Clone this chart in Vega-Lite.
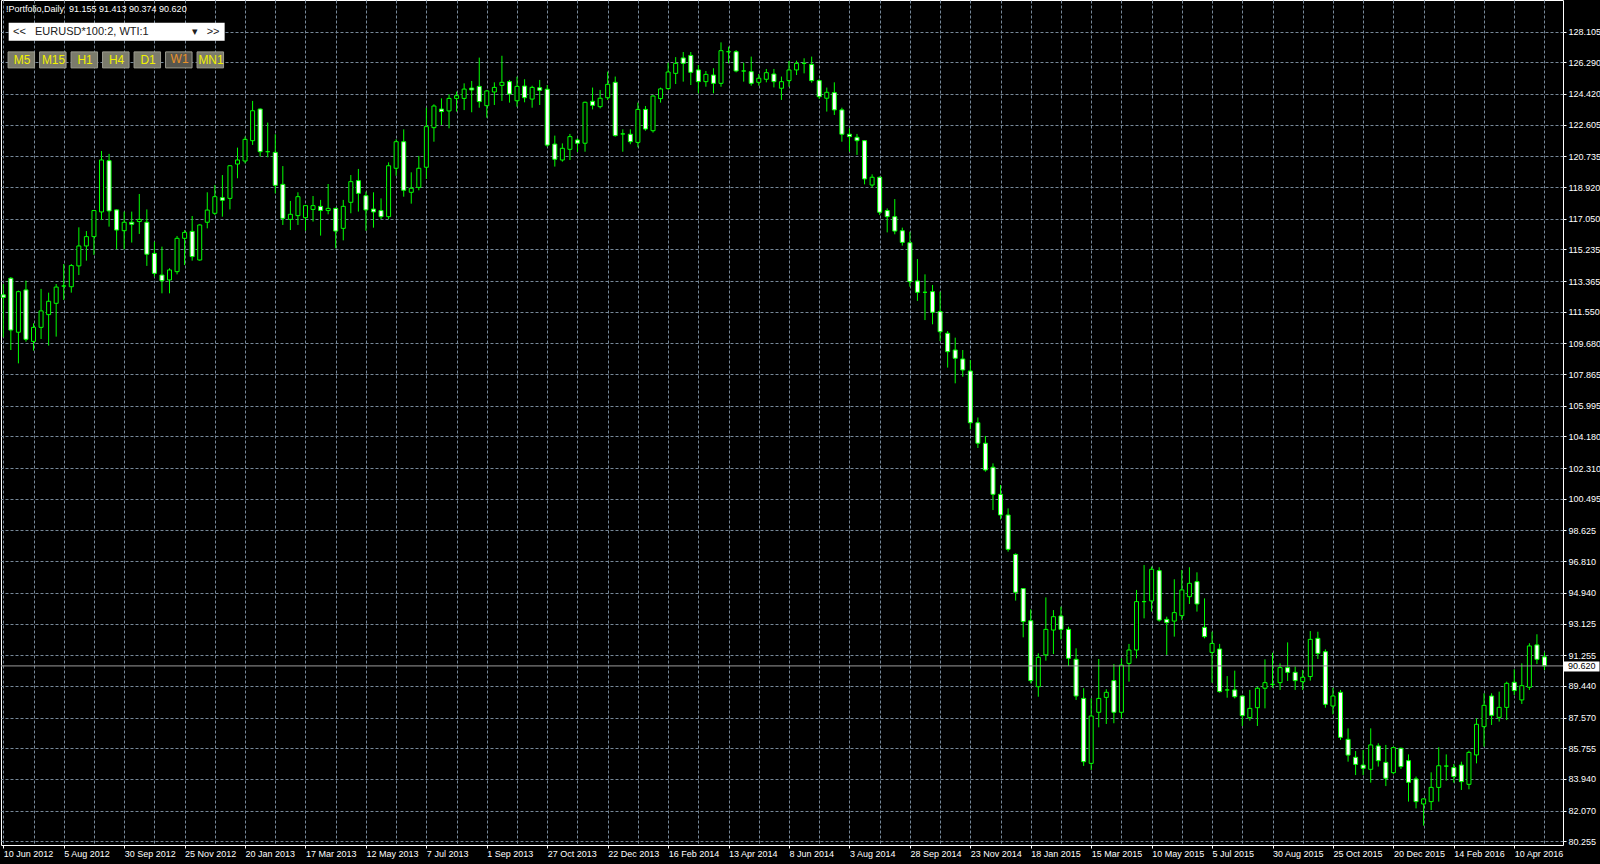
{
  "$schema": "https://vega.github.io/schema/vega-lite/v6.json",
  "width": 1562,
  "height": 845,
  "autosize": {"type": "none"},
  "padding": {"left": 1, "top": 0, "right": 37, "bottom": 19},
  "background": "#000000",
  "config": {
    "view": {"fill": "#000000", "stroke": "#ffffff", "strokeWidth": 1},
    "axis": {"labelFont": "Liberation Sans", "labelFontSize": 9, "labelColor": "#ffffff", "domain": false, "title": null}
  },
  "title": {
    "text": "!Portfolio,Daily \u00a091.155 91.413 90.374 90.620",
    "anchor": "start", "frame": "group", "orient": "top", "offset": -14, "dx": 5,
    "color": "#ffffff", "font": "Liberation Sans", "fontSize": 9, "fontWeight": "normal"
  },
  "datasets": {
    "w": [
      {"d":"2012-06-10","o":112.55,"h":113.19,"l":110.04,"c":112.40},
      {"d":"2012-06-17","o":113.53,"h":113.60,"l":109.29,"c":110.47},
      {"d":"2012-06-24","o":110.34,"h":112.80,"l":108.50,"c":112.74},
      {"d":"2012-07-01","o":112.84,"h":113.39,"l":109.78,"c":109.92},
      {"d":"2012-07-08","o":109.80,"h":110.87,"l":109.25,"c":110.63},
      {"d":"2012-07-15","o":110.63,"h":112.90,"l":109.94,"c":111.60},
      {"d":"2012-07-22","o":111.38,"h":112.68,"l":109.55,"c":112.17},
      {"d":"2012-07-29","o":112.05,"h":113.19,"l":110.08,"c":113.01},
      {"d":"2012-08-05","o":113.07,"h":114.37,"l":112.25,"c":113.07},
      {"d":"2012-08-12","o":113.03,"h":114.37,"l":112.68,"c":114.28},
      {"d":"2012-08-19","o":114.26,"h":116.54,"l":113.72,"c":115.44},
      {"d":"2012-08-26","o":115.44,"h":116.32,"l":114.57,"c":115.99},
      {"d":"2012-09-02","o":115.99,"h":117.57,"l":114.91,"c":117.53},
      {"d":"2012-09-09","o":117.45,"h":121.05,"l":116.97,"c":120.52},
      {"d":"2012-09-16","o":120.48,"h":120.88,"l":116.58,"c":117.51},
      {"d":"2012-09-23","o":117.57,"h":117.60,"l":115.24,"c":116.38},
      {"d":"2012-09-30","o":116.34,"h":117.47,"l":115.24,"c":116.84},
      {"d":"2012-10-07","o":116.84,"h":117.47,"l":115.64,"c":116.72},
      {"d":"2012-10-14","o":116.88,"h":118.51,"l":116.15,"c":117.01},
      {"d":"2012-10-21","o":116.84,"h":117.60,"l":114.26,"c":114.95},
      {"d":"2012-10-28","o":115.00,"h":115.69,"l":113.62,"c":113.82},
      {"d":"2012-11-04","o":113.72,"h":115.40,"l":112.64,"c":113.39},
      {"d":"2012-11-11","o":113.43,"h":114.12,"l":112.64,"c":114.02},
      {"d":"2012-11-18","o":113.92,"h":116.03,"l":113.76,"c":115.89},
      {"d":"2012-11-25","o":115.89,"h":116.38,"l":114.31,"c":116.24},
      {"d":"2012-12-02","o":116.30,"h":117.21,"l":114.57,"c":114.81},
      {"d":"2012-12-09","o":114.61,"h":116.72,"l":114.57,"c":116.68},
      {"d":"2012-12-16","o":116.84,"h":118.61,"l":116.48,"c":117.56},
      {"d":"2012-12-23","o":117.37,"h":119.04,"l":117.27,"c":118.35},
      {"d":"2012-12-30","o":118.29,"h":119.63,"l":117.17,"c":118.14},
      {"d":"2013-01-06","o":118.25,"h":120.22,"l":117.60,"c":120.18},
      {"d":"2013-01-13","o":120.28,"h":121.25,"l":119.44,"c":120.52},
      {"d":"2013-01-20","o":120.46,"h":121.90,"l":120.32,"c":121.74},
      {"d":"2013-01-27","o":121.66,"h":124.01,"l":121.41,"c":123.43},
      {"d":"2013-02-03","o":123.53,"h":123.57,"l":120.72,"c":121.01},
      {"d":"2013-02-10","o":121.01,"h":122.73,"l":120.68,"c":121.01},
      {"d":"2013-02-17","o":120.97,"h":122.04,"l":118.55,"c":119.02},
      {"d":"2013-02-24","o":119.08,"h":120.16,"l":116.68,"c":117.07},
      {"d":"2013-03-03","o":117.01,"h":118.10,"l":116.38,"c":117.31},
      {"d":"2013-03-10","o":117.23,"h":118.61,"l":116.68,"c":118.35},
      {"d":"2013-03-17","o":117.11,"h":117.86,"l":116.34,"c":117.82},
      {"d":"2013-03-24","o":117.60,"h":118.39,"l":116.88,"c":117.82},
      {"d":"2013-03-31","o":117.78,"h":118.16,"l":116.05,"c":117.54},
      {"d":"2013-04-07","o":117.53,"h":119.10,"l":117.31,"c":117.66},
      {"d":"2013-04-14","o":117.66,"h":117.70,"l":115.30,"c":116.32},
      {"d":"2013-04-21","o":116.48,"h":118.16,"l":115.77,"c":117.78},
      {"d":"2013-04-28","o":118.02,"h":119.63,"l":117.37,"c":119.24},
      {"d":"2013-05-05","o":119.30,"h":119.99,"l":117.47,"c":118.55},
      {"d":"2013-05-12","o":118.41,"h":118.65,"l":116.34,"c":117.57},
      {"d":"2013-05-19","o":117.62,"h":118.61,"l":116.52,"c":117.45},
      {"d":"2013-05-26","o":117.53,"h":118.25,"l":117.03,"c":117.17},
      {"d":"2013-06-02","o":117.17,"h":120.38,"l":117.03,"c":120.18},
      {"d":"2013-06-09","o":120.03,"h":121.74,"l":119.59,"c":121.60},
      {"d":"2013-06-16","o":121.60,"h":122.33,"l":118.35,"c":118.73},
      {"d":"2013-06-23","o":118.61,"h":119.79,"l":117.94,"c":118.85},
      {"d":"2013-06-30","o":118.90,"h":120.76,"l":118.73,"c":120.03},
      {"d":"2013-07-07","o":120.09,"h":123.61,"l":119.40,"c":122.49},
      {"d":"2013-07-14","o":122.43,"h":123.81,"l":121.60,"c":123.71},
      {"d":"2013-07-21","o":123.53,"h":124.16,"l":122.59,"c":123.38},
      {"d":"2013-07-28","o":123.42,"h":124.40,"l":122.39,"c":124.16},
      {"d":"2013-08-04","o":124.16,"h":124.56,"l":123.38,"c":124.32},
      {"d":"2013-08-11","o":124.16,"h":125.05,"l":123.47,"c":124.71},
      {"d":"2013-08-18","o":124.77,"h":125.19,"l":123.34,"c":124.66},
      {"d":"2013-08-25","o":124.87,"h":126.57,"l":123.61,"c":123.97},
      {"d":"2013-09-01","o":123.73,"h":124.66,"l":123.02,"c":124.60},
      {"d":"2013-09-08","o":124.54,"h":125.11,"l":123.77,"c":124.81},
      {"d":"2013-09-15","o":124.93,"h":126.68,"l":124.01,"c":125.11},
      {"d":"2013-09-22","o":125.15,"h":125.25,"l":123.91,"c":124.42},
      {"d":"2013-09-29","o":124.02,"h":125.44,"l":123.67,"c":124.87},
      {"d":"2013-10-06","o":124.89,"h":125.29,"l":123.93,"c":124.20},
      {"d":"2013-10-13","o":124.12,"h":124.91,"l":123.61,"c":124.81},
      {"d":"2013-10-20","o":124.79,"h":125.25,"l":123.77,"c":124.64},
      {"d":"2013-10-27","o":124.70,"h":124.95,"l":121.30,"c":121.40},
      {"d":"2013-11-03","o":121.46,"h":121.96,"l":120.13,"c":120.56},
      {"d":"2013-11-10","o":120.52,"h":121.50,"l":120.42,"c":121.21},
      {"d":"2013-11-17","o":121.15,"h":122.06,"l":120.52,"c":121.90},
      {"d":"2013-11-24","o":121.70,"h":121.80,"l":120.99,"c":121.51},
      {"d":"2013-12-01","o":121.51,"h":123.97,"l":121.01,"c":123.93},
      {"d":"2013-12-08","o":123.99,"h":124.80,"l":123.51,"c":123.75},
      {"d":"2013-12-15","o":123.67,"h":124.66,"l":123.57,"c":124.17},
      {"d":"2013-12-22","o":124.20,"h":125.74,"l":124.07,"c":124.99},
      {"d":"2013-12-29","o":125.11,"h":125.45,"l":121.90,"c":121.96},
      {"d":"2014-01-05","o":122.06,"h":122.33,"l":121.01,"c":122.06},
      {"d":"2014-01-12","o":122.04,"h":122.33,"l":121.45,"c":121.60},
      {"d":"2014-01-19","o":121.56,"h":123.91,"l":121.27,"c":123.51},
      {"d":"2014-01-26","o":123.51,"h":123.71,"l":122.25,"c":122.35},
      {"d":"2014-02-02","o":122.25,"h":124.34,"l":122.14,"c":124.30},
      {"d":"2014-02-09","o":124.15,"h":124.80,"l":123.91,"c":124.72},
      {"d":"2014-02-16","o":124.74,"h":126.27,"l":124.66,"c":125.72},
      {"d":"2014-02-23","o":125.64,"h":126.60,"l":125.01,"c":126.23},
      {"d":"2014-03-02","o":126.55,"h":126.90,"l":125.15,"c":126.23},
      {"d":"2014-03-09","o":126.70,"h":126.90,"l":124.95,"c":125.70},
      {"d":"2014-03-16","o":125.84,"h":126.13,"l":124.46,"c":125.15},
      {"d":"2014-03-23","o":125.15,"h":125.78,"l":124.85,"c":125.58},
      {"d":"2014-03-30","o":125.54,"h":125.94,"l":124.46,"c":125.05},
      {"d":"2014-04-06","o":125.05,"h":127.47,"l":124.85,"c":126.98},
      {"d":"2014-04-13","o":126.92,"h":127.22,"l":126.23,"c":126.92},
      {"d":"2014-04-20","o":126.92,"h":127.02,"l":125.70,"c":125.78},
      {"d":"2014-04-27","o":125.78,"h":126.27,"l":125.15,"c":125.78},
      {"d":"2014-05-04","o":125.74,"h":126.63,"l":124.91,"c":125.05},
      {"d":"2014-05-11","o":125.11,"h":125.60,"l":124.91,"c":125.35},
      {"d":"2014-05-18","o":125.29,"h":125.90,"l":125.11,"c":125.68},
      {"d":"2014-05-25","o":125.60,"h":125.90,"l":124.81,"c":125.15},
      {"d":"2014-06-01","o":124.76,"h":125.45,"l":124.07,"c":125.15},
      {"d":"2014-06-08","o":125.21,"h":126.37,"l":124.85,"c":125.84},
      {"d":"2014-06-15","o":125.84,"h":126.39,"l":125.54,"c":126.23},
      {"d":"2014-06-22","o":126.23,"h":126.53,"l":125.64,"c":126.23},
      {"d":"2014-06-29","o":126.17,"h":126.63,"l":125.09,"c":125.21},
      {"d":"2014-07-06","o":125.21,"h":125.29,"l":124.12,"c":124.26},
      {"d":"2014-07-13","o":124.17,"h":124.80,"l":123.38,"c":124.52},
      {"d":"2014-07-20","o":124.50,"h":125.11,"l":123.18,"c":123.48},
      {"d":"2014-07-27","o":123.48,"h":123.61,"l":121.60,"c":122.04},
      {"d":"2014-08-03","o":122.04,"h":122.39,"l":121.01,"c":121.90},
      {"d":"2014-08-10","o":121.86,"h":122.06,"l":120.82,"c":121.66},
      {"d":"2014-08-17","o":121.66,"h":121.70,"l":119.08,"c":119.40},
      {"d":"2014-08-24","o":119.04,"h":119.67,"l":118.89,"c":119.50},
      {"d":"2014-08-31","o":119.50,"h":119.54,"l":117.27,"c":117.43},
      {"d":"2014-09-07","o":117.53,"h":117.66,"l":116.24,"c":117.17},
      {"d":"2014-09-14","o":117.17,"h":118.21,"l":116.13,"c":116.32},
      {"d":"2014-09-21","o":116.34,"h":116.52,"l":115.46,"c":115.65},
      {"d":"2014-09-28","o":115.63,"h":116.28,"l":113.03,"c":113.33},
      {"d":"2014-10-05","o":113.37,"h":114.67,"l":112.19,"c":112.70},
      {"d":"2014-10-12","o":112.70,"h":113.76,"l":111.06,"c":112.70},
      {"d":"2014-10-19","o":112.74,"h":113.13,"l":110.81,"c":111.52},
      {"d":"2014-10-26","o":111.56,"h":112.74,"l":109.82,"c":110.37},
      {"d":"2014-11-02","o":110.28,"h":110.41,"l":108.25,"c":109.19},
      {"d":"2014-11-09","o":109.29,"h":110.02,"l":107.32,"c":108.80},
      {"d":"2014-11-16","o":108.76,"h":109.29,"l":107.71,"c":108.11},
      {"d":"2014-11-23","o":108.05,"h":108.70,"l":104.60,"c":104.99},
      {"d":"2014-11-30","o":104.99,"h":105.30,"l":103.50,"c":103.78},
      {"d":"2014-12-07","o":103.78,"h":104.21,"l":102.10,"c":102.20},
      {"d":"2014-12-14","o":102.36,"h":102.59,"l":99.83,"c":100.76},
      {"d":"2014-12-21","o":100.76,"h":101.31,"l":99.28,"c":99.54},
      {"d":"2014-12-28","o":99.54,"h":99.93,"l":97.37,"c":97.51},
      {"d":"2015-01-04","o":97.21,"h":97.27,"l":94.48,"c":94.97},
      {"d":"2015-01-11","o":95.19,"h":95.21,"l":92.31,"c":93.24},
      {"d":"2015-01-18","o":93.29,"h":93.96,"l":89.59,"c":89.75},
      {"d":"2015-01-25","o":89.39,"h":91.36,"l":88.80,"c":91.13},
      {"d":"2015-02-01","o":91.27,"h":94.67,"l":90.93,"c":92.78},
      {"d":"2015-02-08","o":92.74,"h":93.92,"l":91.32,"c":93.53},
      {"d":"2015-02-15","o":93.57,"h":94.12,"l":92.19,"c":92.78},
      {"d":"2015-02-22","o":92.78,"h":92.94,"l":90.62,"c":91.07},
      {"d":"2015-03-01","o":91.01,"h":91.66,"l":88.61,"c":88.84},
      {"d":"2015-03-08","o":88.70,"h":89.30,"l":84.71,"c":84.96},
      {"d":"2015-03-15","o":84.86,"h":88.70,"l":84.47,"c":87.66},
      {"d":"2015-03-22","o":87.88,"h":91.03,"l":86.99,"c":88.70},
      {"d":"2015-03-29","o":88.76,"h":89.24,"l":87.19,"c":89.06},
      {"d":"2015-04-05","o":89.75,"h":90.73,"l":87.23,"c":87.88},
      {"d":"2015-04-12","o":87.88,"h":91.07,"l":87.52,"c":90.67},
      {"d":"2015-04-19","o":90.77,"h":91.92,"l":89.69,"c":91.56},
      {"d":"2015-04-26","o":91.56,"h":95.11,"l":91.07,"c":94.42},
      {"d":"2015-05-03","o":94.42,"h":96.58,"l":93.43,"c":94.42},
      {"d":"2015-05-10","o":94.46,"h":96.49,"l":93.83,"c":96.33},
      {"d":"2015-05-17","o":96.25,"h":96.45,"l":93.24,"c":93.33},
      {"d":"2015-05-24","o":93.37,"h":93.53,"l":91.27,"c":93.18},
      {"d":"2015-05-31","o":93.27,"h":95.74,"l":92.35,"c":93.77},
      {"d":"2015-06-07","o":93.59,"h":96.29,"l":93.33,"c":95.11},
      {"d":"2015-06-14","o":94.71,"h":96.45,"l":94.28,"c":95.50},
      {"d":"2015-06-21","o":95.60,"h":96.15,"l":93.83,"c":94.28},
      {"d":"2015-06-28","o":92.90,"h":94.61,"l":92.25,"c":92.35},
      {"d":"2015-07-05","o":91.42,"h":92.64,"l":89.63,"c":91.95},
      {"d":"2015-07-12","o":91.62,"h":91.92,"l":89.04,"c":89.10},
      {"d":"2015-07-19","o":89.20,"h":90.02,"l":88.74,"c":89.20},
      {"d":"2015-07-26","o":89.20,"h":90.34,"l":88.70,"c":88.80},
      {"d":"2015-08-02","o":88.84,"h":88.86,"l":87.07,"c":87.68},
      {"d":"2015-08-09","o":87.56,"h":89.20,"l":87.39,"c":88.11},
      {"d":"2015-08-16","o":88.15,"h":89.39,"l":87.07,"c":89.30},
      {"d":"2015-08-23","o":89.30,"h":91.01,"l":88.11,"c":89.63},
      {"d":"2015-08-30","o":89.53,"h":91.40,"l":89.33,"c":89.53},
      {"d":"2015-09-06","o":89.63,"h":90.77,"l":89.20,"c":90.52},
      {"d":"2015-09-13","o":90.52,"h":92.01,"l":89.73,"c":90.24},
      {"d":"2015-09-20","o":90.24,"h":90.58,"l":89.20,"c":89.75},
      {"d":"2015-09-27","o":89.69,"h":90.38,"l":89.20,"c":89.95},
      {"d":"2015-10-04","o":89.99,"h":92.68,"l":89.75,"c":92.19},
      {"d":"2015-10-11","o":92.25,"h":92.64,"l":91.03,"c":91.36},
      {"d":"2015-10-18","o":91.46,"h":91.60,"l":88.15,"c":88.35},
      {"d":"2015-10-25","o":88.25,"h":89.33,"l":87.76,"c":88.84},
      {"d":"2015-11-01","o":89.06,"h":89.20,"l":86.24,"c":86.40},
      {"d":"2015-11-08","o":86.28,"h":86.93,"l":84.96,"c":85.35},
      {"d":"2015-11-15","o":85.22,"h":85.59,"l":84.17,"c":84.80},
      {"d":"2015-11-22","o":84.76,"h":85.65,"l":84.17,"c":84.57},
      {"d":"2015-11-29","o":84.51,"h":86.93,"l":83.72,"c":85.95},
      {"d":"2015-12-06","o":85.89,"h":86.05,"l":84.67,"c":85.02},
      {"d":"2015-12-13","o":84.92,"h":85.95,"l":83.52,"c":83.98},
      {"d":"2015-12-20","o":84.31,"h":85.85,"l":84.21,"c":85.79},
      {"d":"2015-12-27","o":85.75,"h":85.79,"l":84.53,"c":84.67},
      {"d":"2016-01-03","o":85.02,"h":85.39,"l":82.60,"c":83.74},
      {"d":"2016-01-10","o":83.94,"h":84.08,"l":82.20,"c":82.60},
      {"d":"2016-01-17","o":82.46,"h":82.79,"l":81.18,"c":82.76},
      {"d":"2016-01-24","o":82.60,"h":84.33,"l":82.10,"c":83.44},
      {"d":"2016-01-31","o":83.44,"h":85.81,"l":82.60,"c":84.72},
      {"d":"2016-02-07","o":84.70,"h":85.39,"l":83.84,"c":84.70},
      {"d":"2016-02-14","o":84.61,"h":84.82,"l":83.72,"c":84.08},
      {"d":"2016-02-21","o":84.76,"h":84.96,"l":83.29,"c":83.78},
      {"d":"2016-02-28","o":83.62,"h":85.61,"l":83.33,"c":85.51},
      {"d":"2016-03-06","o":85.36,"h":87.52,"l":84.86,"c":87.17},
      {"d":"2016-03-13","o":87.03,"h":89.00,"l":85.85,"c":88.29},
      {"d":"2016-03-20","o":88.84,"h":89.00,"l":87.13,"c":87.70},
      {"d":"2016-03-27","o":87.58,"h":89.10,"l":87.33,"c":88.17},
      {"d":"2016-04-03","o":88.17,"h":89.69,"l":87.42,"c":89.59},
      {"d":"2016-04-10","o":89.65,"h":90.42,"l":88.90,"c":89.16},
      {"d":"2016-04-17","o":88.61,"h":90.77,"l":88.37,"c":89.45},
      {"d":"2016-04-24","o":89.36,"h":91.96,"l":89.20,"c":91.80},
      {"d":"2016-05-01","o":91.86,"h":92.49,"l":90.73,"c":91.01},
      {"d":"2016-05-08","o":91.155,"h":91.413,"l":90.374,"c":90.620}
    ]
  },
  "encoding": {
    "x": {
      "field": "d", "type": "temporal", "title": null,
      "scale": {"type": "utc", "domain": [1339102540800, 1464147360000], "nice": false, "padding": 0},
      "axis": {
        "values": [1339286400000,1341705600000,1344124800000,1346544000000,1348963200000,1351382400000,1353801600000,1356220800000,1358640000000,1361059200000,1363478400000,1365897600000,1368316800000,1370736000000,1373155200000,1375574400000,1377993600000,1380412800000,1382832000000,1385251200000,1387670400000,1390089600000,1392508800000,1394928000000,1397347200000,1399766400000,1402185600000,1404604800000,1407024000000,1409443200000,1411862400000,1414281600000,1416700800000,1419120000000,1421539200000,1423958400000,1426377600000,1428796800000,1431216000000,1433635200000,1436054400000,1438473600000,1440892800000,1443312000000,1445731200000,1448150400000,1450569600000,1452988800000,1455408000000,1457827200000,1460246400000,1462665600000],
        "grid": true, "gridColor": "#778899", "gridDash": [3, 2], "gridWidth": 1,
        "labelExpr": "round((datum.value - 1339286400000) / 2419200000) % 2 == 0 ? utcFormat(datum.value, '%-d %b %Y') : ''",
        "labelAlign": "left", "labelBaseline": "middle", "labelPadding": 5,
        "labelOverlap": false, "labelFlush": false, "labelBound": false,
        "tickSize": 3, "tickColor": "#ffffff",
        "tickOpacity": {"condition": {"test": "round((datum.value - 1339286400000) / 2419200000) % 2 == 0", "value": 1}, "value": 0},
        "domain": false, "title": null
      }
    }
  },
  "layer": [
    {
      "data": {"name": "w"},
      "mark": {"type": "rule", "color": "#00ff00", "strokeWidth": 1},
      "encoding": {
        "y": {
          "field": "l", "type": "quantitative", "title": null,
          "scale": {"domain": [80.036, 129.975], "nice": false, "zero": false},
          "axis": {
            "orient": "right",
            "values": [80.255,82.07,83.94,85.755,87.57,89.44,91.255,93.125,94.94,96.81,98.625,100.495,102.31,104.18,105.995,107.865,109.68,111.55,113.365,115.235,117.05,118.92,120.735,122.605,124.42,126.29,128.105],
            "format": ".3f", "grid": true, "gridColor": "#778899", "gridDash": [3, 2], "gridWidth": 1,
            "tickSize": 3, "tickColor": "#ffffff", "labelPadding": 2,
            "labelAlign": "left", "labelBaseline": "middle", "labelOverlap": false, "labelFlush": false,
            "domain": false, "title": null
          }
        },
        "y2": {"field": "h"}
      }
    },
    {
      "data": {"name": "w"},
      "mark": {"type": "bar", "width": 4, "stroke": "#00ff00", "strokeWidth": 1},
      "encoding": {
        "y": {"field": "o", "type": "quantitative", "title": null, "scale": {"domain": [80.036, 129.975], "nice": false, "zero": false}, "axis": null},
        "y2": {"field": "c"},
        "fill": {"condition": {"test": "datum.o > datum.c", "value": "#ffffff"}, "value": "#000000"}
      }
    },
    {
      "data": {"values": [{"p": 90.62}]},
      "mark": {"type": "rule", "color": "#9a9a9a", "strokeWidth": 1},
      "encoding": {
        "x": null,
        "y": {
          "field": "p", "type": "quantitative", "title": null,
          "scale": {"domain": [80.036, 129.975], "nice": false, "zero": false},
          "axis": {
            "orient": "right", "values": [90.62], "format": ".3f", "grid": false,
            "tickSize": 36, "tickWidth": 10, "tickColor": "#ffffff",
            "labelColor": "#000000", "labelPadding": -31.5, "labelAlign": "left", "labelBaseline": "middle",
            "domain": false, "title": null
          }
        }
      }
    },
    {
      "data": {"values": [{"b": "M5"}, {"b": "M15"}, {"b": "H1"}, {"b": "H4"}, {"b": "D1"}, {"b": "W1"}, {"b": "MN1"}]},
      "transform": [{"filter": "false"}],
      "mark": {"type": "point", "filled": true},
      "encoding": {
        "x": null,
        "color": {
          "field": "b", "type": "nominal",
          "scale": {"domain": ["M5", "M15", "H1", "H4", "D1", "W1", "MN1"], "range": ["#7b7b6c", "#7b7b6c", "#7b7b6c", "#7b7b6c", "#7b7b6c", "#57574f", "#7b7b6c"]},
          "legend": {
            "orient": "none", "legendX": 6.3, "legendY": 45.4, "direction": "horizontal", "title": null,
            "symbolType": "M-1,-0.6038L1,-0.6038L1,0.6038L-1,0.6038Z", "symbolSize": 702.25, "symbolOpacity": 1,
            "symbolStrokeColor": "#9c9c90", "symbolStrokeWidth": 1,
            "labelExpr": "datum.label == 'W1' ? '' : datum.label",
            "labelColor": "#f0f000", "labelFont": "Liberation Sans", "labelFontSize": 12,
            "labelAlign": "center", "labelOffset": -13.25, "labelLimit": 0,
            "columnPadding": -0.5, "padding": 0
          }
        }
      }
    },
    {
      "data": {"values": [{"sel": "W1"}]},
      "transform": [{"filter": "false"}],
      "mark": {"type": "point", "filled": true},
      "encoding": {
        "x": null,
        "fill": {
          "field": "sel", "type": "nominal",
          "scale": {"domain": ["W1"], "range": ["#57574f"]},
          "legend": {
            "orient": "none", "legendX": 163.8, "legendY": 45.4, "direction": "horizontal", "title": null,
            "symbolType": "M-1,-0.6038L1,-0.6038L1,0.6038L-1,0.6038Z", "symbolSize": 702.25, "symbolOpacity": 0,
            "labelColor": "#e8922a", "labelFont": "Liberation Sans", "labelFontSize": 12,
            "labelAlign": "center", "labelOffset": -13.25, "labelLimit": 0, "padding": 0
          }
        }
      }
    },
    {
      "data": {"values": [{"s": "EURUSD*100:2, WTI:1"}]},
      "transform": [{"filter": "false"}],
      "mark": {"type": "point", "filled": true, "color": "#ffffff"},
      "encoding": {
        "x": null,
        "shape": {
          "field": "s", "type": "nominal",
          "scale": {"domain": ["EURUSD*100:2, WTI:1"], "range": ["M-12,-1L12,-1L12,1L-12,1Z"]},
          "legend": {
            "orient": "none", "legendX": 106.15, "legendY": 22.15, "title": null,
            "symbolSize": 324, "symbolOpacity": 1, "symbolFillColor": "#ffffff",
            "symbolStrokeColor": "#c8c8c8", "symbolStrokeWidth": 1,
            "labelExpr": "'<<\u00a0\u00a0\u00a0' + datum.label + '\u00a0\u00a0\u00a0\u00a0\u00a0\u00a0\u00a0\u00a0\u00a0\u00a0\u00a0\u00a0\u00a0\u00a0\u25be\u00a0\u00a0\u00a0>>'",
            "labelColor": "#202020", "labelFont": "Liberation Sans", "labelFontSize": 11,
            "labelAlign": "left", "labelOffset": -113.15, "labelLimit": 0, "padding": 0
          }
        }
      }
    }
  ],
  "resolve": {"axis": {"y": "independent"}}
}
